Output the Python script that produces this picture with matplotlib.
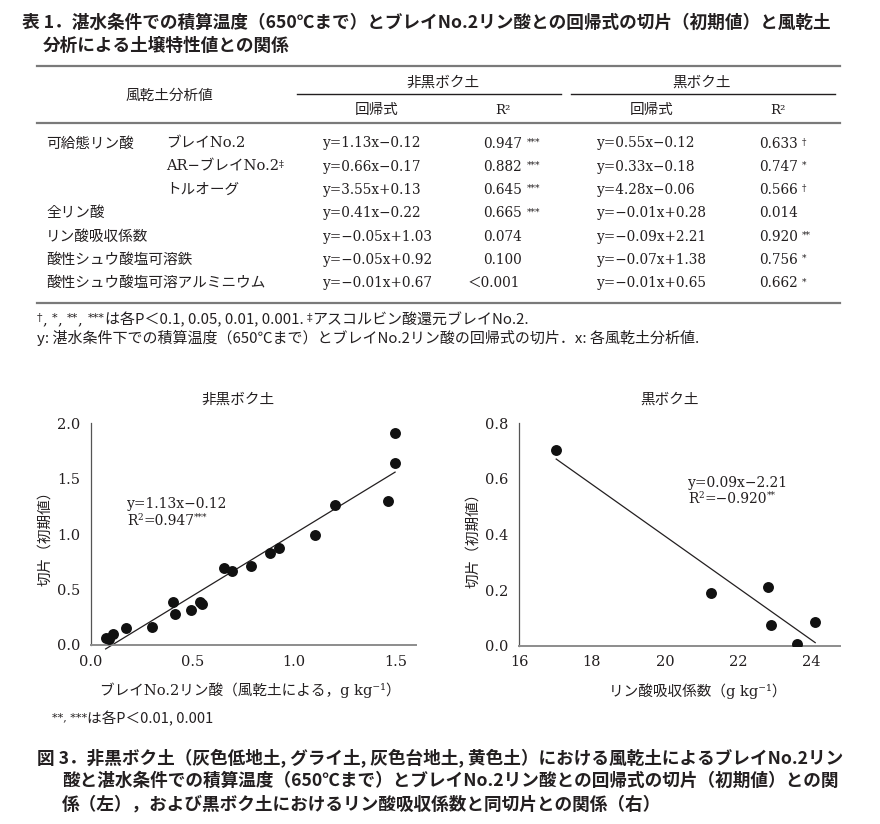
import numpy as np
import matplotlib
matplotlib.use('Agg')
import matplotlib.pyplot as plt

W, H = 880, 824
JP = ['Noto Sans CJK JP', 'DejaVu Sans']
SER = ['DejaVu Serif', 'Noto Sans CJK JP']
INK = '#231f20'

# ---------------- data ----------------
table_title = ['表 1．湛水条件での積算温度（650℃まで）とブレイNo.2リン酸との回帰式の切片（初期値）と風乾土',
               '分析による土壌特性値との関係']
group_labels = ['可給態リン酸', '', '', '全リン酸', 'リン酸吸収係数', '酸性シュウ酸塩可溶鉄', '酸性シュウ酸塩可溶アルミニウム']
sub_labels = ['ブレイNo.2', 'AR−ブレイNo.2', 'トルオーグ', '', '', '', '']
sub_marks = ['', '‡', '', '', '', '', '']
eq_non_andosol = ['y=1.13x−0.12', 'y=0.66x−0.17', 'y=3.55x+0.13', 'y=0.41x−0.22',
                  'y=−0.05x+1.03', 'y=−0.05x+0.92', 'y=−0.01x+0.67']
r2_non_andosol = ['0.947', '0.882', '0.645', '0.665', '0.074', '0.100', '＜0.001']
sig_non_andosol = ['***', '***', '***', '***', '', '', '']
eq_andosol = ['y=0.55x−0.12', 'y=0.33x−0.18', 'y=4.28x−0.06', 'y=−0.01x+0.28',
              'y=−0.09x+2.21', 'y=−0.07x+1.38', 'y=−0.01x+0.65']
r2_andosol = ['0.633', '0.747', '0.566', '0.014', '0.920', '0.756', '0.662']
sig_andosol = ['†', '*', '†', '', '**', '*', '*']

left_x = [0.072, 0.089, 0.110, 0.171, 0.302, 0.405, 0.412, 0.490, 0.535, 0.547,
          0.656, 0.693, 0.787, 0.880, 0.926, 1.103, 1.200, 1.464, 1.497, 1.497]
left_y = [0.066, 0.051, 0.097, 0.156, 0.165, 0.390, 0.283, 0.316, 0.385, 0.372,
          0.692, 0.668, 0.713, 0.833, 0.872, 0.990, 1.260, 1.300, 1.645, 1.910]
right_x = [17.02, 21.27, 22.83, 22.92, 23.62, 24.12]
right_y = [0.703, 0.191, 0.211, 0.074, 0.005, 0.086]

left_ticks_x = [0.0, 0.5, 1.0, 1.5]
left_ticks_y = [0.0, 0.5, 1.0, 1.5, 2.0]
right_ticks_x = [16, 18, 20, 22, 24]
right_ticks_y = [0.0, 0.2, 0.4, 0.6, 0.8]

# ---------------- figure ----------------
fig = plt.figure(figsize=(8.8, 8.24), dpi=100)
renderer = fig.canvas.get_renderer()


def txt(x, y, s, size, family=JP, ha='left', va='baseline', weight='normal', **kw):
    return fig.text(x / W, 1 - y / H, s, fontsize=size, family=family, ha=ha, va=va,
                    weight=weight, color=INK, **kw)


def seq(x, y, pieces):
    for s, size, dy, fam in pieces:
        t = txt(x, y + dy, s, size, fam)
        x += t.get_window_extent(renderer).width
    return x


def hline(x0, x1, y, lw, color):
    fig.add_artist(plt.Line2D([x0 / W, x1 / W], [1 - y / H, 1 - y / H], lw=lw, color=color))


# title
txt(22, 28, table_title[0], 12.7, weight='bold')
txt(43, 51, table_title[1], 12.7, weight='bold')

# table rules
hline(37, 840, 66, 1.6, '#7a7a7a')
hline(37, 840, 123, 1.6, '#7a7a7a')
hline(37, 840, 303, 1.6, '#7a7a7a')
hline(297, 561, 94, 1.0, INK)
hline(571, 835, 94, 1.0, INK)

# headers
txt(169, 100, '風乾土分析値', 10.5, ha='center')
txt(443, 87, '非黒ボク土', 10.5, ha='center')
txt(702, 87, '黒ボク土', 10.5, ha='center')
txt(377, 114, '回帰式', 10.5, ha='center')
txt(652, 114, '回帰式', 10.5, ha='center')
txt(503, 114, 'R²', 9.5, family=SER, ha='center')
txt(778, 114, 'R²', 9.5, family=SER, ha='center')

# rows
for i in range(len(eq_non_andosol)):
    yb = 147.5 + 23.3 * i
    if group_labels[i]:
        txt(46, yb, group_labels[i], 10.5)
    if sub_labels[i]:
        seq(166, yb, [(sub_labels[i], 10.5, 0, SER), (sub_marks[i], 7, -4, SER)])
    txt(323, yb, eq_non_andosol[i], 9.8, family=SER)
    rx = 483 if not r2_non_andosol[i].startswith('＜') else 468
    xe = seq(rx, yb, [(r2_non_andosol[i], 9.8, 0, SER)])
    if sig_non_andosol[i]:
        txt(xe + 5, yb - 3, sig_non_andosol[i], 6.5, family=SER)
    txt(597, yb, eq_andosol[i], 9.8, family=SER)
    xe = seq(759, yb, [(r2_andosol[i], 9.8, 0, SER)])
    if sig_andosol[i]:
        txt(xe + 4, yb - 3, sig_andosol[i], 6.5, family=SER)

# footnotes under table
seq(37, 324, [('†', 8, -3, SER), (', ', 10.8, 0, SER), ('*', 8, -3, SER), (', ', 10.8, 0, SER),
              ('**', 8, -3, SER), (', ', 10.8, 0, SER), ('***', 8, -3, SER),
              ('は各P＜0.1, 0.05, 0.01, 0.001. ', 10.8, 0, JP), ('‡', 8, -3, SER),
              ('アスコルビン酸還元ブレイNo.2.', 10.8, 0, JP)])
txt(37, 343, 'y: 湛水条件下での積算温度（650℃まで）とブレイNo.2リン酸の回帰式の切片．x: 各風乾土分析値.', 10.8)

# ---------------- charts ----------------
def style_axes(ax):
    for s in ['top', 'right']:
        ax.spines[s].set_visible(False)
    ax.spines['left'].set_color('#555555')
    ax.spines['left'].set_linewidth(0.9)
    ax.spines['bottom'].set_color('#8c8c8c')
    ax.spines['bottom'].set_linewidth(1.4)
    ax.tick_params(length=0, labelsize=10.5, colors=INK)
    ax.tick_params(axis='y', pad=8)
    ax.tick_params(axis='x', pad=7)
    for lab in ax.get_xticklabels() + ax.get_yticklabels():
        lab.set_family(SER)
    ax.set_facecolor('none')


y0, y1 = 645, 423.3
axL = fig.add_axes([91 / W, 1 - y0 / H, (416 - 91) / W, (y0 - y1) / H])
axL.scatter(left_x, left_y, s=62, color='#111111', zorder=3, linewidths=0)
cL = np.polyfit(left_x, left_y, 1)
xsL = np.array([min(left_x), max(left_x)])
axL.plot(xsL, np.polyval(cL, xsL), color=INK, lw=0.9, clip_on=False)
axL.set_xlim(0, 1.6)
axL.set_ylim(0, 2.0)
axL.set_xticks(left_ticks_x)
axL.set_yticks(left_ticks_y)
axL.set_xticklabels([f'{v:.1f}' for v in left_ticks_x])
axL.set_yticklabels([f'{v:.1f}' for v in left_ticks_y])
style_axes(axL)

axR = fig.add_axes([519 / W, 1 - 645.7 / H, (840 - 519) / W, (645.7 - 423.3) / H])
axR.scatter(right_x, right_y, s=62, color='#111111', zorder=3, linewidths=0)
cR = np.polyfit(right_x, right_y, 1)
xsR = np.array([min(right_x), max(right_x)])
axR.plot(xsR, np.polyval(cR, xsR), color=INK, lw=0.9, clip_on=False)
axR.set_xlim(16, 24.8)
axR.set_ylim(0, 0.8)
axR.set_xticks(right_ticks_x)
axR.set_yticks(right_ticks_y)
axR.set_xticklabels([str(v) for v in right_ticks_x])
axR.set_yticklabels([f'{v:.1f}' for v in right_ticks_y])
style_axes(axR)

# chart titles and labels
txt(238, 400, '非黒ボク土', 10.5, ha='center', va='center')
txt(670, 400, '黒ボク土', 10.5, ha='center', va='center')
txt(250, 690, 'ブレイNo.2リン酸（風乾土による，g kg⁻¹）', 10.5, family=SER, ha='center', va='center')
txt(698, 691, 'リン酸吸収係数（g kg⁻¹）', 10.5, family=SER, ha='center', va='center')
txt(45, 535, '切片（初期値）', 10.5, ha='center', va='center', rotation=90)
txt(473, 537, '切片（初期値）', 10.5, ha='center', va='center', rotation=90)

# annotations
txt(127, 508, 'y=1.13x−0.12', 10, family=SER)
xe = seq(127, 525, [('R', 10, 0, SER), ('2', 6.5, -5, SER), ('=0.947', 10, 0, SER)])
txt(xe, 520, '***', 6.5, family=SER)
txt(688, 487, 'y=0.09x−2.21', 10, family=SER)
xe = seq(688, 503, [('R', 10, 0, SER), ('2', 6.5, -5, SER), ('=−0.920', 10, 0, SER)])
txt(xe, 498, '**', 6.5, family=SER)

# bottom note and caption
seq(52, 723, [('**, ***', 8, -3, SER), ('は各P＜0.01, 0.001', 10.5, 0, JP)])
txt(37, 763, '図 3．非黒ボク土（灰色低地土, グライ土, 灰色台地土, 黄色土）における風乾土によるブレイNo.2リン', 12.7, weight='bold')
txt(62, 786, '酸と湛水条件での積算温度（650℃まで）とブレイNo.2リン酸との回帰式の切片（初期値）との関', 12.7, weight='bold')
txt(62, 809, '係（左），および黒ボク土におけるリン酸吸収係数と同切片との関係（右）', 12.7, weight='bold')

fig.savefig('out.png', dpi=100)
